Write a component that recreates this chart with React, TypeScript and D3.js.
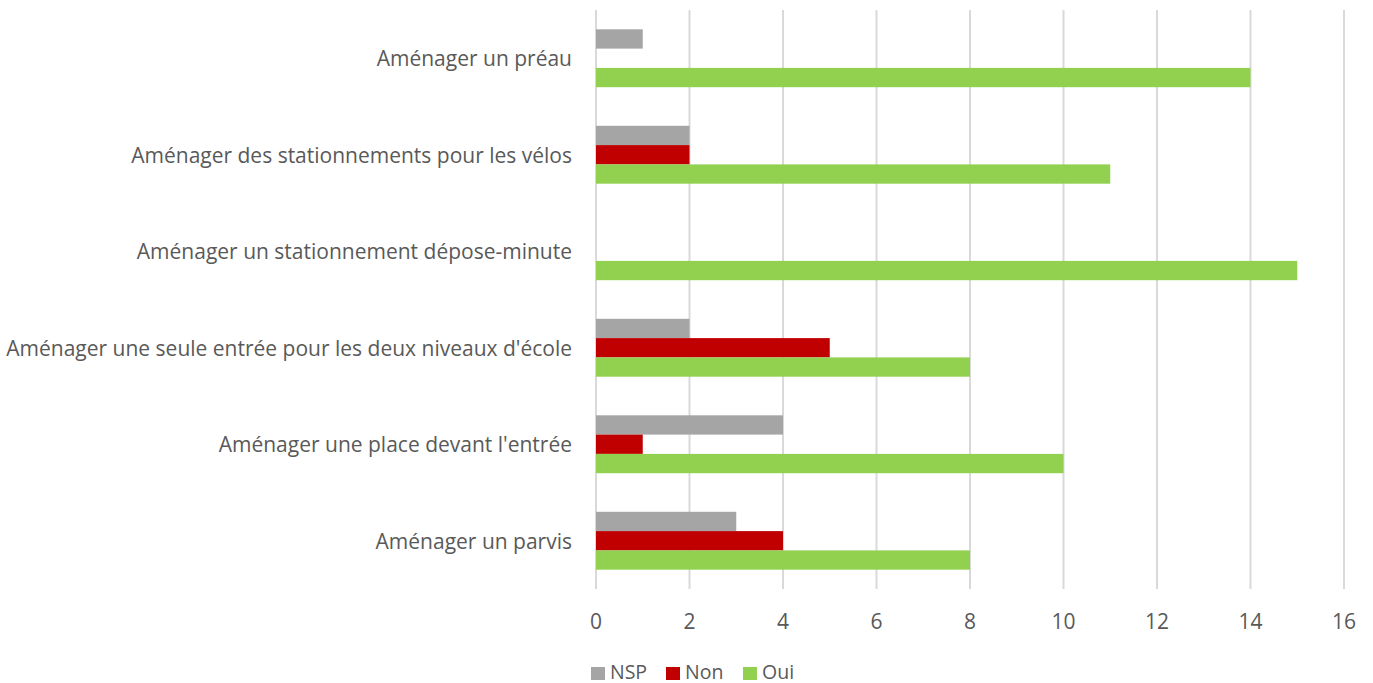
import React from "react";
import * as d3 from "d3";

const categories = [
  "Aménager un préau",
  "Aménager des stationnements pour les vélos",
  "Aménager un stationnement dépose-minute",
  "Aménager une seule entrée pour les deux niveaux d'école",
  "Aménager une place devant l'entrée",
  "Aménager un parvis",
];
const seriesNames = ["NSP", "Non", "Oui"];
const nspValues = [1, 2, 0, 2, 4, 3];
const nonValues = [0, 2, 0, 5, 1, 4];
const ouiValues = [14, 11, 15, 8, 10, 8];
const colors = ["#A5A5A5", "#C00000", "#92D050"];
const ticks = [0, 2, 4, 6, 8, 10, 12, 14, 16];

const W = 1373;
const H = 683;
const left = 596;
const right = 1344;
const top = 10;
const bottom = 589;
const FONT = "'Open Sans', sans-serif";
const TXT = "#595959";

export default function App() {
  const x = d3.scaleLinear().domain([0, 16]).range([left, right]);
  const y = d3.scaleBand().domain(categories).range([top, bottom]).paddingInner(0.4).paddingOuter(0.2);
  const inner = d3.scaleBand().domain(seriesNames).range([0, y.bandwidth()]);
  const series = [nspValues, nonValues, ouiValues];

  const legendItems = [
    { name: "NSP", sx: 591, tx: 610 },
    { name: "Non", sx: 666, tx: 685 },
    { name: "Oui", sx: 743, tx: 762 },
  ];

  return (
    <svg width={W} height={H} style={{ position: "absolute", left: 0, top: 0, background: "#fff" }}>
      {ticks.map((t) => (
        <line key={t} x1={x(t)} x2={x(t)} y1={top} y2={bottom} stroke="#D9D9D9" strokeWidth={2} />
      ))}
      {categories.map((c, i) => (
        <g key={c}>
          {series.map((vals, s) => (
            <rect
              key={s}
              x={x(0)}
              y={(y(c) as number) + (inner(seriesNames[s]) as number)}
              width={x(vals[i]) - x(0)}
              height={inner.bandwidth()}
              fill={colors[s]}
            />
          ))}
          <text
            x={572}
            y={(y(c) as number) + y.bandwidth() / 2}
            textAnchor="end"
            dominantBaseline="central"
            fontFamily={FONT}
            fontSize={21}
            fill={TXT}
          >
            {c}
          </text>
        </g>
      ))}
      {ticks.map((t) => (
        <text
          key={t}
          x={x(t)}
          y={621}
          textAnchor="middle"
          dominantBaseline="central"
          fontFamily={FONT}
          fontSize={21}
          fill={TXT}
        >
          {t}
        </text>
      ))}
      {legendItems.map((l, i) => (
        <g key={l.name}>
          <rect x={l.sx} y={667} width={14} height={13} fill={colors[i]} />
          <text x={l.tx} y={671} dominantBaseline="central" fontFamily={FONT} fontSize={19.5} fill={TXT}>
            {seriesNames[i]}
          </text>
        </g>
      ))}
    </svg>
  );
}
